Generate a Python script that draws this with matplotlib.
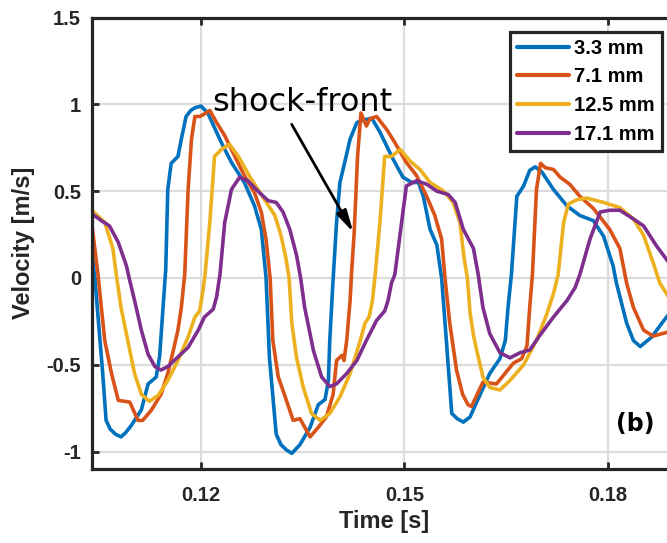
import matplotlib
matplotlib.use("Agg")
import matplotlib.pyplot as plt
import numpy as np

# ---- data (time in ms, velocity in m/s) ----
t_33 = [103.9, 104.3, 105.5, 106.0, 106.6, 107.4, 108.2, 108.9, 109.7, 111.2, 112.2, 113.4, 113.9, 114.4,
        114.8, 115.1, 115.6, 116.6, 117.1, 117.8, 118.5, 119.1, 120.0, 121.0, 123.0, 124.5, 126.4, 127.9,
        128.9, 129.6, 130.1, 131.1, 131.8, 132.6, 133.4, 134.6, 136.1, 137.3, 138.3, 138.8, 139.0, 139.4,
        140.0, 140.5, 141.2, 142.0, 143.0, 144.0, 145.2, 146.4, 148.4, 149.8, 151.1, 152.1, 152.8, 153.8,
        154.8, 155.5, 156.2, 157.0, 157.8, 158.7, 159.7, 161.2, 162.6, 164.1, 164.9, 165.3, 165.8, 166.6,
        167.6, 168.5, 169.3, 170.3, 172.0, 174.0, 175.9, 177.9, 179.4, 180.8, 181.3, 182.8, 183.8, 184.8,
        186.5, 188.0, 189.0]
v_33 = [0.15, 0.02, -0.55, -0.82, -0.87, -0.90, -0.915, -0.89, -0.85, -0.76, -0.61, -0.57, -0.45, -0.17,
        0.05, 0.51, 0.66, 0.70, 0.80, 0.93, 0.965, 0.98, 0.99, 0.95, 0.78, 0.665, 0.55, 0.415,
        0.28, 0.0, -0.46, -0.90, -0.96, -0.99, -1.01, -0.96, -0.86, -0.73, -0.70, -0.59, -0.36, -0.07,
        0.32, 0.55, 0.665, 0.80, 0.895, 0.91, 0.92, 0.84, 0.68, 0.58, 0.55, 0.55, 0.47, 0.28,
        0.19, 0.0, -0.36, -0.78, -0.81, -0.83, -0.80, -0.67, -0.55, -0.465, -0.36, -0.17, 0.02, 0.47,
        0.53, 0.62, 0.64, 0.61, 0.51, 0.415, 0.36, 0.33, 0.24, 0.07, -0.03, -0.26, -0.36, -0.395,
        -0.34, -0.26, -0.21]

t_71 = [103.9, 104.8, 105.8, 106.8, 107.8, 108.7, 109.5, 110.7, 111.4, 112.7, 114.1, 115.1, 115.9, 116.6,
        117.1, 117.6, 118.1, 118.6, 119.1, 119.8, 120.3, 121.3, 122.3, 123.5, 125.0, 126.4, 127.9, 128.9,
        129.6, 130.2, 130.6, 131.4, 132.3, 132.6, 133.6, 134.6, 136.1, 137.3, 138.5, 139.5, 140.0, 140.8,
        141.1, 141.5, 142.0, 142.2, 142.6, 143.1, 143.6, 144.4, 144.9, 145.9, 147.4, 148.6, 150.3, 151.8,
        153.3, 154.5, 155.5, 156.0, 156.7, 157.7, 158.6, 159.4, 159.9, 161.6, 163.6, 166.1, 167.3, 168.1,
        168.5, 168.9, 169.5, 170.1, 170.8, 172.0, 173.0, 174.4, 175.9, 177.9, 180.3, 181.8, 182.8, 183.8,
        185.3, 186.7, 189.0]
v_71 = [0.31, 0.02, -0.36, -0.55, -0.705, -0.71, -0.715, -0.82, -0.82, -0.76, -0.67, -0.55, -0.42, -0.30,
        -0.17, 0.02, 0.51, 0.80, 0.93, 0.93, 0.94, 0.965, 0.895, 0.82, 0.70, 0.59, 0.49, 0.38,
        0.22, 0.0, -0.36, -0.57, -0.67, -0.705, -0.82, -0.81, -0.915, -0.86, -0.80, -0.67, -0.475, -0.445,
        -0.475, -0.36, -0.13, 0.02, 0.26, 0.70, 0.95, 0.875, 0.915, 0.93, 0.855, 0.78, 0.665, 0.59,
        0.47, 0.36, 0.225, 0.0, -0.26, -0.53, -0.67, -0.73, -0.74, -0.60, -0.61, -0.49, -0.465, -0.39,
        -0.17, 0.02, 0.51, 0.66, 0.635, 0.625, 0.58, 0.54, 0.47, 0.40, 0.28, 0.17, -0.03, -0.17,
        -0.30, -0.335, -0.31]

t_125 = [103.9, 105.8, 107.0, 107.5, 108.2, 109.2, 110.2, 111.2, 112.4, 113.7, 115.1, 116.6, 118.1, 119.1,
         119.8, 120.3, 120.6, 121.3, 122.0, 123.0, 124.2, 125.5, 127.4, 129.4, 130.9, 131.8, 132.5, 133.0,
         133.4, 134.1, 135.1, 136.3, 137.6, 139.0, 140.5, 142.0, 143.5, 144.2, 144.8, 145.3, 145.7, 146.4,
         147.1, 148.1, 149.4, 150.8, 152.3, 153.8, 155.8, 157.2, 158.2, 158.8, 159.3, 159.7, 160.2, 160.7,
         161.6, 162.6, 164.1, 165.6, 167.6, 169.5, 171.0, 172.0, 172.7, 173.5, 174.2, 175.4, 176.9, 179.4,
         181.8, 183.8, 185.3, 186.7, 187.7, 189.0]
v_125 = [0.39, 0.32, 0.17, 0.02, -0.17, -0.36, -0.55, -0.67, -0.71, -0.675, -0.59, -0.475, -0.34, -0.225,
         -0.19, -0.07, 0.02, 0.32, 0.70, 0.74, 0.77, 0.70, 0.57, 0.45, 0.36, 0.245, 0.12, 0.0,
         -0.26, -0.46, -0.63, -0.78, -0.82, -0.78, -0.685, -0.55, -0.36, -0.26, -0.225, -0.13, 0.02, 0.32,
         0.70, 0.70, 0.74, 0.675, 0.625, 0.55, 0.50, 0.435, 0.32, 0.12, 0.0, -0.2, -0.33, -0.42,
         -0.57, -0.63, -0.645, -0.59, -0.50, -0.36, -0.21, -0.09, 0.02, 0.32, 0.425, 0.45, 0.46, 0.435,
         0.405, 0.34, 0.245, 0.09, -0.03, -0.11]

t_171 = [103.9, 105.3, 106.5, 107.8, 109.0, 109.4, 110.2, 111.2, 112.2, 113.2, 114.1, 115.1, 116.6, 118.1,
         119.6, 120.5, 121.8, 122.3, 122.8, 123.5, 124.5, 125.7, 126.9, 128.4, 129.9, 131.1, 132.1, 133.1,
         134.1, 134.7, 135.3, 136.6, 137.8, 139.0, 140.0, 141.5, 143.0, 144.4, 145.9, 147.1, 147.6, 148.1,
         148.6, 149.6, 150.3, 151.8, 153.3, 154.8, 156.5, 157.5, 158.7, 160.2, 160.9, 161.6, 162.6, 164.1,
         165.6, 167.1, 168.5, 170.0, 172.0, 174.0, 175.2, 175.9, 177.4, 178.9, 180.3, 181.8, 183.8, 185.3,
         187.2, 189.0]
v_171 = [0.37, 0.33, 0.30, 0.205, 0.07, 0.0, -0.13, -0.30, -0.44, -0.51, -0.53, -0.51, -0.455, -0.40,
         -0.30, -0.225, -0.18, -0.11, 0.02, 0.32, 0.51, 0.58, 0.56, 0.50, 0.445, 0.435, 0.38, 0.28,
         0.13, 0.0, -0.17, -0.42, -0.57, -0.625, -0.61, -0.55, -0.475, -0.36, -0.245, -0.19, -0.13, -0.03,
         0.02, 0.32, 0.53, 0.56, 0.54, 0.50, 0.48, 0.435, 0.28, 0.17, 0.02, -0.17, -0.32, -0.43,
         -0.46, -0.43, -0.415, -0.33, -0.225, -0.13, -0.055, 0.02, 0.225, 0.38, 0.39, 0.39, 0.34, 0.30,
         0.185, 0.09]

series = [
    ("3.3 mm", t_33, v_33, "#0072BD"),
    ("7.1 mm", t_71, v_71, "#D95319"),
    ("12.5 mm", t_125, v_125, "#EDB120"),
    ("17.1 mm", t_171, v_171, "#7E2F8E"),
]

xticks = [0.12, 0.15, 0.18]
xticklabels = ["0.12", "0.15", "0.18"]
yticks = [-1, -0.5, 0, 0.5, 1, 1.5]
yticklabels = ["-1", "-0.5", "0", "0.5", "1", "1.5"]

# annotation positions (data units)
arrow_tail = (0.13338, 0.885)
arrow_tip = (0.14247, 0.263)
label_pos = (0.12162, 0.96)
panel_pos = (0.1841, -0.84)

# ---- figure ----
W, H = 667, 543
fig = plt.figure(figsize=(W / 100, H / 100), dpi=100)
ax = fig.add_axes([92 / W, 1 - 469 / H, 585 / W, (469 - 17.5) / H])

dark = "#262626"
bold_font = dict(family="Liberation Sans", weight="bold")

for name, t, v, c in series:
    ax.plot(np.array(t) / 1000.0, v, color=c, lw=2.6, label=name,
            solid_joinstyle="round", solid_capstyle="round")

ax.set_xlim(0.10392, 0.19023)
ax.set_ylim(-1.1, 1.5)
ax.set_xticks(xticks)
ax.set_xticklabels(xticklabels, fontdict=dict(size=14.5, **bold_font), color=dark)
ax.set_yticks(yticks)
ax.set_yticklabels(yticklabels, fontdict=dict(size=14.5, **bold_font), color=dark)
ax.tick_params(axis="both", direction="in", length=5, width=2, color=dark, top=True, right=False)
ax.tick_params(axis="x", pad=12)
ax.tick_params(axis="y", pad=8)

ax.grid(True, color="#dcdcdc", lw=1.6)
ax.set_axisbelow(True)
for s in ["left", "bottom", "top"]:
    ax.spines[s].set_linewidth(2.3)
    ax.spines[s].set_color(dark)
ax.spines["right"].set_visible(False)

ax.set_xlabel("Time [s]", fontsize=17, color=dark, labelpad=4, **bold_font)
ax.set_ylabel("Velocity [m/s]", fontsize=17, color=dark, labelpad=8, **bold_font)

ax.annotate("", xy=arrow_tip, xytext=arrow_tail,
            arrowprops=dict(arrowstyle="-|>,head_length=1.3,head_width=0.32", color="black", lw=2,
                            shrinkA=0, shrinkB=0))
ax.text(label_pos[0], label_pos[1], "shock-front", fontsize=23, family="DejaVu Sans",
        color="black", ha="left", va="baseline")
ax.text(panel_pos[0], panel_pos[1], "(b)", fontsize=17, family="DejaVu Sans", weight="bold",
        color="black", ha="center", va="center")

leg = ax.legend(loc="upper right", bbox_to_anchor=(662 / W, 1 - 31.7 / H),
                bbox_transform=fig.transFigure, borderaxespad=0, frameon=True, fancybox=False,
                handlelength=2.6, handletextpad=0.25, labelspacing=0.48, borderpad=0.35,
                prop=dict(size=14.5, **bold_font))
leg.get_frame().set_edgecolor(dark)
leg.get_frame().set_linewidth(2.3)
leg.get_frame().set_alpha(1)
for line in leg.get_lines():
    line.set_linewidth(3)

fig.savefig("out.png", dpi=100)
